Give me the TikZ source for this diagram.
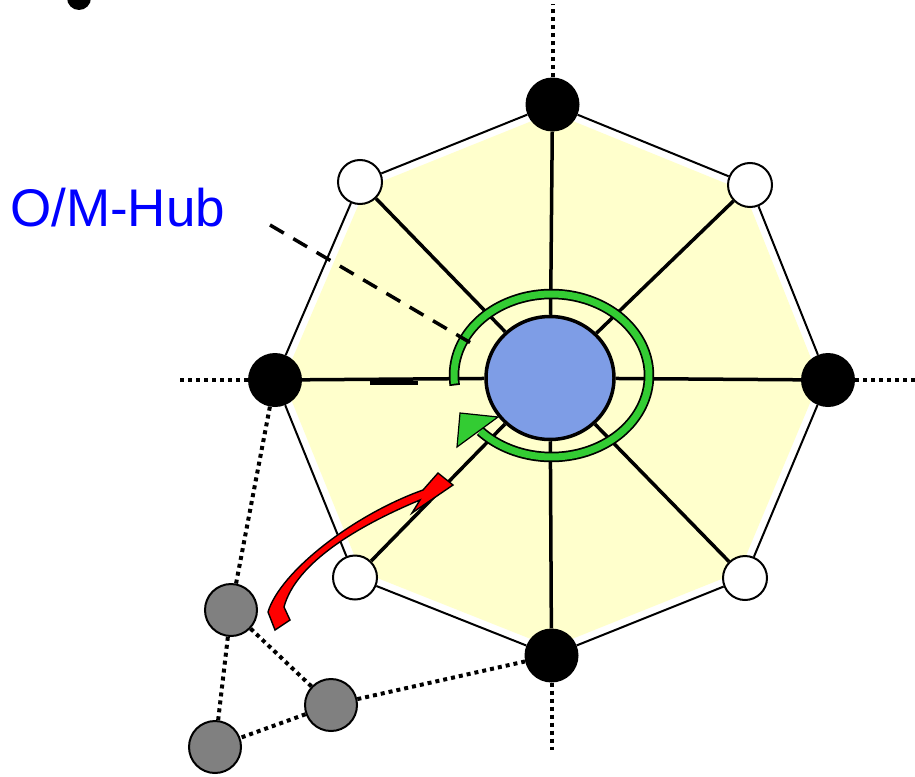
\documentclass[tikz,border=0pt]{standalone}
\usepackage{fontspec}
\setsansfont{Liberation Sans}
\usetikzlibrary{arrows.meta,positioning,calc,shapes.geometric}
\definecolor{HubBlue}{HTML}{7E9DE6}
\definecolor{PaleYellow}{HTML}{FFFFCC}
\definecolor{RingGreen}{HTML}{33CC33}
\definecolor{NodeGray}{HTML}{808080}
\begin{document}
\begin{tikzpicture}[x=1pt,y=-1pt,
  blacknode/.style={circle,fill=black,minimum size=54pt,inner sep=0pt},
  whitenode/.style={circle,draw,line width=2pt,fill=white,minimum size=44pt,inner sep=0pt},
  graynode/.style={circle,draw,line width=2pt,fill=NodeGray,minimum size=52pt,inner sep=0pt},
  spoke/.style={line width=3.5pt},
  rim/.style={line width=2pt},
  dots/.style={line width=4pt,dash pattern=on 4pt off 4pt}]
\useasboundingbox (0,0) rectangle (915,776);
\coordinate (hubc) at (550,378);
\coordinate (pN) at (552.5,104.5);
\coordinate (pNE) at (750,185);
\coordinate (pE) at (828,380);
\coordinate (pSE) at (745,578);
\coordinate (pS) at (551.5,655.5);
\coordinate (pSW) at (355,577.5);
\coordinate (pW) at (275,380);
\coordinate (pNW) at (360,182);
\fill[PaleYellow] ($(hubc)!0.97!(pN)$) -- ($(hubc)!0.97!(pNE)$) -- ($(hubc)!0.97!(pE)$) -- ($(hubc)!0.97!(pSE)$) -- ($(hubc)!0.97!(pS)$) -- ($(hubc)!0.97!(pSW)$) -- ($(hubc)!0.97!(pW)$) -- ($(hubc)!0.97!(pNW)$) -- cycle;
\node[blacknode] (N) at (pN) {};
\node[whitenode] (NE) at (pNE) {};
\node[blacknode] (E) at (pE) {};
\node[whitenode] (SE) at (pSE) {};
\node[blacknode] (S) at (pS) {};
\node[whitenode] (SW) at (pSW) {};
\node[blacknode] (W) at (pW) {};
\node[whitenode] (NW) at (pNW) {};
\node[ellipse,draw,line width=3.5pt,fill=HubBlue,minimum width=128pt,minimum height=123pt,inner sep=0pt] (hub) at (hubc) {};
\node[circle,fill=black,minimum size=24pt,inner sep=0pt] (corner) at (79,-2) {};
\draw[rim] (N) -- (NE) -- (E) -- (SE) -- (S) -- (SW) -- (W) -- (NW) -- (N);
\foreach \v in {N,NE,E,SE,S,SW,W,NW} \draw[spoke] (hub) -- (\v);
\coordinate (barL) at (370,383);
\coordinate (barR) at (418,383);
\draw[line width=4.5pt] (barL) -- (barR);
\draw[black,line width=10.5pt] plot[domain=173:497,samples=120] ({551.5+97.5*cos(\x)},{375.5+81.5*sin(\x)});
\draw[RingGreen,line width=7pt,shorten <=1.8pt] plot[domain=173:497,samples=120] ({551.5+97.5*cos(\x)},{375.5+81.5*sin(\x)});
\filldraw[fill=RingGreen,draw=black,line width=1.2pt] (457,447) -- (460,413) -- (498,417) -- cycle;
\coordinate (ptrA) at (270,225);
\coordinate (ptrB) at (476,346);
\draw[line width=3.5pt,dash pattern=on 16pt off 11pt] (ptrA) -- (ptrB);
\coordinate (topend) at (552.5,4);
\coordinate (leftend) at (180,380);
\coordinate (rightend) at (915,380);
\coordinate (bottomend) at (551.5,750);
\draw[dots] (N) -- (topend);
\draw[dots] (W) -- (leftend);
\draw[dots] (E) -- (rightend);
\draw[dots] (S) -- (bottomend);
\node[graynode] (G1) at (231,610) {};
\node[graynode] (G2) at (331,705) {};
\node[graynode] (G3) at (215,747) {};
\draw[dots] (W) -- (G1);
\draw[dots] (G1) -- (G3);
\draw[dots] (G1) -- (G2);
\draw[dots] (G2) -- (G3);
\draw[dots] (G2) -- (S);
\filldraw[fill=red,draw=black,line width=1.4pt,line join=miter] (268,612) .. controls (280,572) and (353,515) .. (423,490) -- (438,473) -- (453,485) -- (412,513) -- (420,500) .. controls (360,525) and (296,562) .. (284,607) -- (290,620) -- (275,630) -- cycle;
\node[anchor=base west,inner sep=0pt,text=blue,font=\sffamily\fontsize{53}{60}\selectfont] (hublabel) at (10,226) {O/M-Hub};
\end{tikzpicture}
\end{document}
